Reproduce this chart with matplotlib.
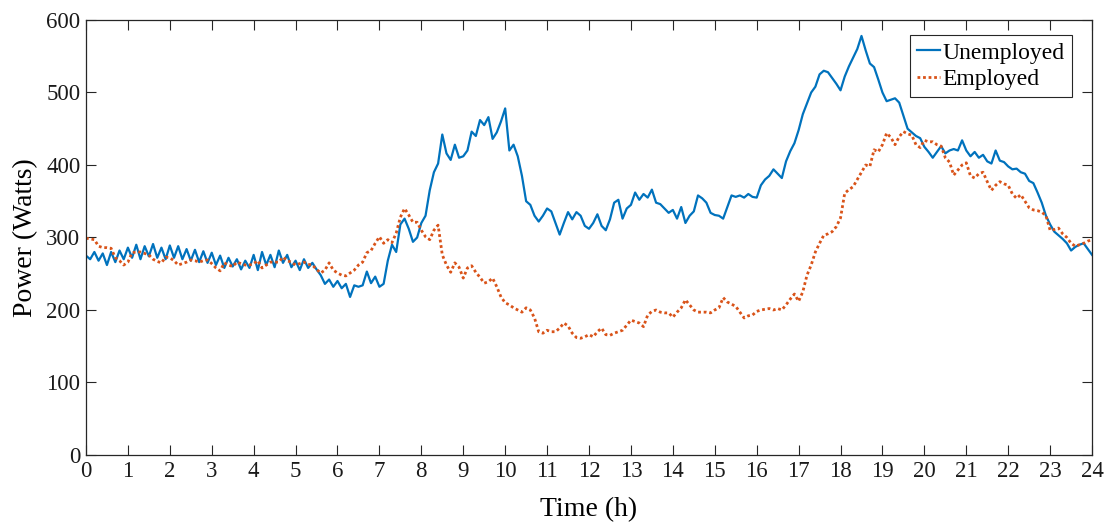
import numpy as np
import matplotlib
matplotlib.use("Agg")
import matplotlib.pyplot as plt

# valores, un punto cada 0.1 h (0.0 .. 24.0)
hours = np.round(np.arange(0, 241) * 0.1, 1)

unemployed = [
    275, 270, 280, 268, 278, 262, 280, 266, 282, 270,
    286, 272, 290, 270, 288, 274, 291, 272, 286, 270,
    289, 272, 288, 270, 284, 268, 283, 266, 281, 265,
    279, 262, 275, 258, 272, 260, 270, 256, 268, 258,
    276, 255, 280, 262, 276, 259, 282, 265, 276, 259,
    268, 255, 270, 258, 265, 256, 248, 236, 242, 232,
    240, 230, 236, 218, 234, 232, 234, 253, 237, 246,
    232, 236, 268, 290, 280, 318, 326, 312, 294, 300,
    320, 330, 365, 390, 402, 442, 416, 407, 428, 410,
    412, 420, 446, 440, 462, 455, 466, 436, 445, 460,
    478, 420, 428, 412, 385, 350, 345, 330, 322, 330,
    340, 336, 320, 304, 320, 335, 325, 335, 330, 316,
    312, 320, 332, 316, 310, 325, 348, 352, 326, 340,
    345, 362, 352, 360, 355, 366, 348, 346, 340, 334,
    338, 326, 342, 320, 330, 336, 358, 354, 348, 334,
    331, 330, 326, 342, 358, 356, 358, 355, 360, 356,
    355, 372, 380, 385, 394, 388, 382, 405, 419, 430,
    448, 470, 485, 500, 508, 525, 530, 528, 520, 512,
    503, 522, 536, 548, 560, 578, 558, 540, 535, 518,
    500, 488, 490, 492, 486, 468, 450, 445, 440, 437,
    425, 418, 410, 418, 426, 416, 420, 422, 420, 434,
    420, 412, 418, 410, 414, 405, 402, 420, 406, 404,
    398, 394, 395, 390, 388, 378, 375, 362, 348, 330,
    318, 308, 303, 298, 292, 282, 287, 290, 292, 284,
    276,
]

employed = [
    299, 298, 297, 288, 286, 286, 285, 272, 268, 262,
    266, 279, 280, 280, 278, 276, 270, 267, 265, 273,
    272, 268, 262, 264, 266, 269, 268, 266, 268, 269,
    264, 258, 254, 265, 262, 260, 266, 264, 262, 262,
    264, 268, 258, 262, 266, 266, 266, 273, 268, 266,
    262, 264, 266, 263, 262, 256, 251, 255, 265, 255,
    251, 248, 247, 251, 255, 262, 266, 279, 282, 292,
    301, 292, 297, 293, 306, 328, 340, 331, 321, 321,
    310, 301, 297, 310, 317, 276, 262, 252, 265, 259,
    244, 258, 261, 252, 245, 237, 239, 244, 232, 218,
    210, 207, 203, 200, 197, 203, 200, 189, 170, 168,
    172, 170, 170, 175, 182, 178, 168, 162, 161, 163,
    166, 163, 170, 175, 166, 165, 168, 170, 172, 179,
    186, 184, 182, 177, 193, 198, 200, 197, 196, 196,
    190, 197, 203, 214, 207, 200, 197, 197, 197, 196,
    200, 203, 217, 211, 208, 205, 197, 189, 192, 193,
    198, 200, 201, 202, 200, 202, 200, 207, 215, 222,
    212, 225, 248, 262, 280, 292, 303, 305, 308, 315,
    327, 361, 366, 370, 380, 390, 400, 398, 421, 418,
    428, 444, 438, 428, 439, 446, 443, 441, 428, 424,
    434, 432, 432, 428, 426, 410, 404, 386, 393, 400,
    403, 385, 382, 388, 390, 377, 365, 372, 377, 374,
    372, 360, 354, 359, 350, 341, 338, 337, 335, 330,
    310, 311, 313, 305, 300, 292, 288, 290, 292, 295,
    297,
]

x_ticks = list(range(0, 25))
y_ticks = list(range(0, 601, 100))

plt.rcParams["font.family"] = ["Liberation Serif", "DejaVu Serif"]
plt.rcParams["font.size"] = 16.5

fig = plt.figure(figsize=(11.08, 5.22), dpi=100)
ax = fig.add_axes([0.0776, 0.1284, 0.908, 0.8333])

ax.plot(hours, unemployed, color="#0072BD", lw=1.6, label="Unemployed")
ax.plot(hours, employed, color="#D95319", lw=2.0, ls=(0, (1, 1)), label="Employed")

ax.set_xlim(0, 24)
ax.set_ylim(0, 600)
ax.set_xticks(x_ticks)
ax.set_yticks(y_ticks)
ax.tick_params(direction="in", length=7, width=0.8, top=True, right=True,
               colors="#262626", labelcolor="#1a1a1a", pad=4, labelsize=16.5)
for s in ax.spines.values():
    s.set_color("#262626")
    s.set_linewidth(0.9)

ax.set_xlabel("Time (h)", fontsize=20, labelpad=11)
ax.set_ylabel("Power (Watts)", fontsize=20, labelpad=6)

leg = ax.legend(loc="upper right", bbox_to_anchor=(0.980, 0.9655), fancybox=False,
                framealpha=1, edgecolor="#262626", handlelength=1.0,
                handletextpad=0.1, borderpad=0.3, labelspacing=0.22,
                borderaxespad=0.0, fontsize=17)
leg.get_frame().set_linewidth(0.8)

fig.savefig("out.png", dpi=100)
